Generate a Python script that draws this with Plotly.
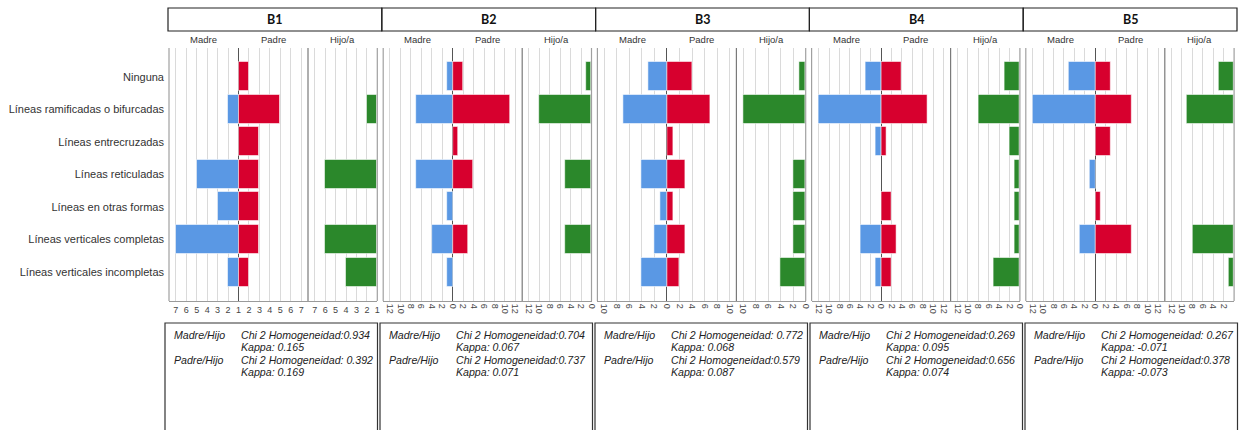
import plotly.graph_objects as go

# ---------------- data ----------------
categories = [
    "Ninguna",
    "Líneas ramificadas o bifurcadas",
    "Líneas entrecruzadas",
    "Líneas reticuladas",
    "Líneas en otras formas",
    "Líneas verticales completas",
    "Líneas verticales incompletas",
]
groups = ["B1", "B2", "B3", "B4", "B5"]
panel_labels = ["Madre", "Padre", "Hijo/a"]

madre_b1 = [0, 2, 0, 5, 3, 7, 2]
padre_b1 = [2, 5, 3, 3, 3, 3, 2]
hijo_b1 = [0, 2, 0, 6, 0, 6, 4]

madre_b2 = [1, 7, 0, 7, 1, 4, 1]
padre_b2 = [2, 11, 1, 4, 0, 3, 0]
hijo_b2 = [1, 10, 0, 5, 0, 5, 0]

madre_b3 = [3, 7, 0, 4, 1, 2, 4]
padre_b3 = [4, 7, 1, 3, 1, 3, 2]
hijo_b3 = [1, 10, 0, 2, 2, 2, 4]

madre_b4 = [3, 12, 1, 0, 0, 4, 1]
padre_b4 = [4, 9, 1, 0, 2, 3, 2]
hijo_b4 = [3, 8, 2, 1, 1, 1, 5]

madre_b5 = [5, 12, 0, 1, 0, 3, 0]
padre_b5 = [3, 7, 3, 0, 1, 7, 0]
hijo_b5 = [3, 9, 0, 0, 0, 8, 1]

madre = [madre_b1, madre_b2, madre_b3, madre_b4, madre_b5]
padre = [padre_b1, padre_b2, padre_b3, padre_b4, padre_b5]
hijo = [hijo_b1, hijo_b2, hijo_b3, hijo_b4, hijo_b5]

# axis labelling of each block: value at the centre line, tick step, largest tick
axis_origin = [1, 0, 0, 0, 0]
axis_step = [1, 2, 2, 2, 2]
axis_top = [7, 12, 10, 12, 12]

pair_madre = "Madre/Hijo"
pair_padre = "Padre/Hijo"
chi_madre = ["Chi 2 Homogeneidad:0.934", "Chi 2 Homogeneidad:0.704", "Chi 2 Homogeneidad: 0.772",
             "Chi 2 Homogeneidad:0.269", "Chi 2 Homogeneidad: 0.267"]
kappa_madre = ["Kappa: 0.165", "Kappa: 0.067", "Kappa: 0.068", "Kappa: 0.095", "Kappa: -0.071"]
chi_padre = ["Chi 2 Homogeneidad: 0.392", "Chi 2 Homogeneidad:0.737", "Chi 2 Homogeneidad:0.579",
             "Chi 2 Homogeneidad:0.656", "Chi 2 Homogeneidad:0.378"]
kappa_padre = ["Kappa: 0.169", "Kappa: 0.071", "Kappa: 0.087", "Kappa: 0.074", "Kappa: -0.073"]

# ---------------- styling / geometry ----------------
W, H = 1239, 430
BLUE = "#5a98e4"
RED = "#d7002e"
GREEN = "#2b882b"
half_range = [6.65, 13.3, 11.07, 13.35, 13.3]


def X(px):
    return px / W


def Y(py):
    return 1 - py / H


plot_top, plot_bot = 48, 301
grp_left0, grp_pitch = 169, 214.2
mp_w, h_w = 139.0, 69.3

fig = go.Figure()
layout = {}
shapes = []
annotations = []

for g in range(5):
    o = axis_origin[g]
    mp_id = 2 * g + 1
    h_id = 2 * g + 2
    mp_ax = "x" if mp_id == 1 else f"x{mp_id}"
    h_ax = f"x{h_id}"
    gl = grp_left0 + grp_pitch * g
    mp_dom = [X(gl), X(gl + mp_w)]
    h_dom = [X(gl + mp_w), X(gl + mp_w + h_w)]

    def length(v):
        return (v - o) if v > o else None

    m_len = [(-length(v) if length(v) is not None else None) for v in madre[g]]
    p_len = [length(v) for v in padre[g]]
    h_len = [length(v) for v in hijo[g]]
    common = dict(orientation="h", y=categories, width=0.89, yaxis="y", hoverinfo="x+y", showlegend=False)
    fig.add_trace(go.Bar(x=m_len, xaxis=mp_ax, name="Madre",
                         marker=dict(color=BLUE, line=dict(color="rgba(255,255,255,0.55)", width=1)), **common))
    fig.add_trace(go.Bar(x=p_len, xaxis=mp_ax, name="Padre",
                         marker=dict(color=RED, line=dict(color="rgba(255,255,255,0.55)", width=1)), **common))
    fig.add_trace(go.Bar(x=h_len, xaxis=h_ax, name="Hijo/a",
                         marker=dict(color=GREEN, line=dict(color="rgba(255,255,255,0.55)", width=1)), **common))

    n = axis_top[g] - o
    st = axis_step[g]
    mp_vals = list(range(-n, n + 1, st))
    mp_text = [str(abs(v) + o) for v in mp_vals]
    h_vals = list(range(0, n + 1, st))
    h_text = [str(v + o) for v in h_vals]
    ang = 0 if g == 0 else 90
    base_ax = dict(anchor="y", showgrid=True, gridcolor="#dadada", gridwidth=1,
                   showline=True, linecolor="#9a9a9a", linewidth=1, ticks="",
                   tickangle=ang, tickfont=dict(family="Liberation Sans", size=9, color="#444"),
                   fixedrange=True, automargin=False)
    layout["xaxis" if mp_id == 1 else f"xaxis{mp_id}"] = dict(
        base_ax, domain=mp_dom, range=[-half_range[g], half_range[g]],
        tickvals=mp_vals, ticktext=mp_text, zeroline=True, zerolinecolor="#555", zerolinewidth=1)
    layout[f"xaxis{h_id}"] = dict(
        base_ax, domain=h_dom, range=[half_range[g], 0],
        tickvals=h_vals, ticktext=h_text, zeroline=False)

    # panel frame lines
    for xp, col in [(gl, "#a0a0a0"), (gl + mp_w, "#7a7a7a"), (gl + mp_w + h_w, "#a0a0a0")]:
        shapes.append(dict(type="line", xref="paper", yref="paper", x0=X(xp), x1=X(xp),
                           y0=Y(plot_bot), y1=Y(plot_top), line=dict(color=col, width=1.2)))

    # sub headers
    for lbl, cx in zip(panel_labels, [gl + mp_w * 0.25, gl + mp_w * 0.75, gl + mp_w + h_w / 2]):
        annotations.append(dict(text=lbl, x=X(cx), y=Y(40), xref="paper", yref="paper",
                                showarrow=False, xanchor="center", yanchor="middle",
                                font=dict(family="Liberation Sans", size=9.5, color="#333")))

    # header box
    hl = 168 + 213.8 * g
    shapes.append(dict(type="rect", xref="paper", yref="paper", x0=X(hl), x1=X(hl + 213.8),
                       y0=Y(31), y1=Y(8), line=dict(color="#222", width=1.2)))
    annotations.append(dict(text=f"<b>{groups[g]}</b>", x=X(hl + 106.9), y=Y(20), xref="paper", yref="paper",
                            showarrow=False, xanchor="center", yanchor="middle",
                            font=dict(family="Lato", size=12.5, color="#111")))

    # bottom stats box
    bl = 165 + 215 * g
    shapes.append(dict(type="rect", xref="paper", yref="paper", x0=X(bl), x1=X(bl + 212.5),
                       y0=Y(432), y1=Y(323), line=dict(color="#333", width=1.2)))
    tf = dict(family="Liberation Sans", size=10.6, color="#222", style="italic")
    for txt, tx, ty in [(pair_madre, bl + 7, 334.5), (chi_madre[g], bl + 74, 334.5),
                        (kappa_madre[g], bl + 74, 347), (pair_padre, bl + 7, 359.5),
                        (chi_padre[g], bl + 74, 359.5), (kappa_padre[g], bl + 74, 372)]:
        annotations.append(dict(text=txt, x=X(tx), y=Y(ty), xref="paper", yref="paper",
                                showarrow=False, xanchor="left", yanchor="middle", font=tf))

layout["yaxis"] = dict(domain=[Y(plot_bot), Y(plot_top)], anchor="x", type="category",
                       categoryorder="array", categoryarray=categories,
                       range=[6.89, -0.88], showgrid=False, zeroline=False, showline=False,
                       ticks="", ticklabelstandoff=4, automargin=False,
                       tickfont=dict(family="Liberation Sans", size=11, color="#333"),
                       fixedrange=True)

fig.update_layout(
    width=W, height=H, margin=dict(l=0, r=0, t=0, b=0, autoexpand=False),
    paper_bgcolor="white", plot_bgcolor="white",
    barmode="overlay", bargap=0, showlegend=False,
    shapes=shapes, annotations=annotations, **layout,
)

fig.write_html("out.html")
